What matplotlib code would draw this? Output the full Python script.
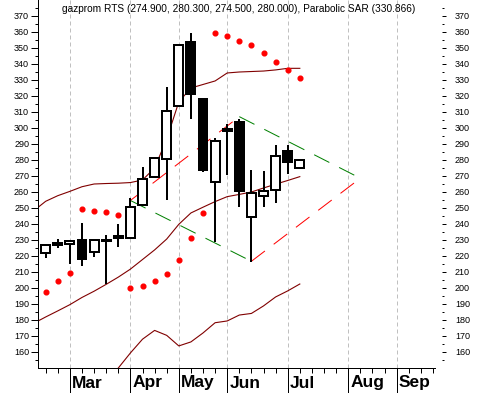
import matplotlib
matplotlib.use('Agg')
import matplotlib.pyplot as plt
import numpy as np

plt.rcParams['font.family'] = ['Liberation Sans', 'DejaVu Sans']

# weekly candles (index 0 = last week of Feb)
opens = [221.5, 227.8, 227.6, 229.8, 222.3, 230.0, 231.3, 230.9, 251.5, 269.4, 280.6,
         313.6, 353.6, 318.0, 266.1, 299.2, 303.8, 244.4, 257.5, 261.1, 285.7, 274.9]
highs = [227.0, 230.6, 229.6, 240.6, 230.0, 232.9, 239.6, 255.9, 275.7, 281.9, 325.6,
         352.0, 359.4, 318.6, 293.4, 302.3, 305.4, 273.6, 273.1, 289.2, 289.2, 280.3]
lows = [218.4, 224.6, 214.6, 213.6, 219.0, 202.3, 225.6, 230.5, 251.0, 269.0, 254.8,
        313.0, 305.2, 272.5, 228.3, 270.2, 250.3, 215.9, 250.6, 253.1, 271.1, 274.5]
closes = [226.7, 226.5, 229.2, 217.8, 229.8, 229.0, 232.3, 250.6, 268.1, 280.9, 310.6,
          351.4, 321.0, 273.6, 291.7, 297.9, 260.7, 259.4, 260.4, 282.3, 278.8, 280.0]

sar = [197.5, 204.2, 209.4, 249.2, 248.1, 247.5, 245.6, 200.0, 201.1, 204.2, 208.6,
       217.5, 231.3, 246.9, 359.2, 357.1, 354.2, 351.5, 346.5, 341.1, 335.9, 330.9]

# bollinger bands, starting one week before the first visible candle
band_start = -1
bb_upper = [248.0, 254.0, 257.5, 260.2, 263.1, 264.8, 265.1, 265.3, 265.7, 267.3, 274.8, 292.9,
            316.1, 324.8, 327.0, 329.2, 334.2, 334.8, 335.1, 335.4, 336.1, 337.1, 337.1]
bb_middle = [177.7, 181.7, 185.5, 189.4, 193.9, 197.8, 202.1, 206.6, 211.6, 217.6, 223.6, 230.4,
             239.6, 246.7, 250.3, 253.8, 256.9, 258.3, 259.8, 262.3, 264.7, 267.0, 269.4]
bb_lower = [107.4, 109.4, 113.5, 118.6, 124.7, 130.8, 139.1, 149.8, 159.2, 167.8, 173.3, 170.2,
            163.6, 166.1, 171.7, 178.1, 179.2, 182.9, 183.9, 188.6, 194.2, 198.0, 202.3]

# channel corners: left, top, right, bottom
chan_x = [7, 16, 26, 17]
chan_y = [254.5, 306.9, 268.4, 216.5]

months = ['Mar', 'Apr', 'May', 'Jun', 'Jul', 'Aug', 'Sep']
month_weeks = [2, 7, 11, 15, 20, 25, 29]
n_weeks = 33

title = 'gazprom RTS (274.900, 280.300, 274.500, 280.000), Parabolic SAR (330.866)'

W, H = 478, 393
fig = plt.figure(figsize=(W / 100, H / 100), dpi=100)
ax = fig.add_axes([38 / W, (H - 368) / H, (442 - 38) / W, 368 / H])
ax.set_xlim(-0.636, 32.75)
ax.set_ylim(149.8, 379.8)

px = 0.72  # one pixel in points

for m in month_weeks:
    ax.axvline(m, color='#c0c0c0', lw=px, linestyle=(0, (4 / px * 0.72, 3 / px * 0.72)), zorder=0)

# bands
xb = np.arange(band_start, band_start + len(bb_upper))
for band in (bb_upper, bb_middle, bb_lower):
    ax.plot(xb, band, color='#800000', lw=0.8, zorder=2)

# channel
dash = (0, (17, 11))
ax.plot([chan_x[1], chan_x[2]], [chan_y[1], chan_y[2]], color='#008000', lw=px, linestyle=dash, zorder=2)
ax.plot([chan_x[0], chan_x[3]], [chan_y[0], chan_y[3]], color='#008000', lw=px, linestyle=dash, zorder=2)
ax.plot([chan_x[0], chan_x[1]], [chan_y[0], chan_y[1]], color='#ff0000', lw=px, linestyle=dash, zorder=2)
ax.plot([chan_x[3], chan_x[2]], [chan_y[3], chan_y[2]], color='#ff0000', lw=px, linestyle=dash, zorder=2)

# candles
x = np.arange(len(opens))
o = np.array(opens)
c = np.array(closes)
ax.vlines(x, lows, highs, color='black', lw=1.44, zorder=3)
body_colors = ['white' if cc >= oo else 'black' for oo, cc in zip(o, c)]
ax.bar(x, np.abs(c - o), bottom=np.minimum(o, c), width=0.74, color=body_colors,
       edgecolor='black', linewidth=1.44, zorder=4)

# parabolic SAR
ax.plot(x, sar, 'o', color='#ff0000', ms=3.4, mec='#ff0000', zorder=5)

# axes styling
for s in ('top', 'right'):
    ax.spines[s].set_visible(False)
ax.spines['left'].set_linewidth(px)
ax.spines['bottom'].set_linewidth(px)
ax.spines['bottom'].set_bounds(-0.636, 32.17)

yt = np.arange(160, 371, 10)
ymin = np.arange(155, 376, 10)
ax.set_yticks(yt)
ax.set_yticks(ymin, minor=True)
ax.tick_params(axis='y', which='major', length=5, width=px, pad=1.4, labelsize=6.5)
ax.tick_params(axis='y', which='minor', length=2.2, width=px)

ax.set_xticks(month_weeks)
ax.set_xticks(np.arange(n_weeks), minor=True)
ax.set_xticklabels([])
ax.tick_params(axis='x', which='major', length=18, width=px)
ax.tick_params(axis='x', which='minor', length=3.6, width=px)

for m, pos in zip(months, month_weeks):
    ax.annotate(m, xy=(pos, 0), xycoords=ax.get_xaxis_transform(),
                xytext=(1.5, -10.8), textcoords='offset points',
                ha='left', va='center', fontsize=12.5, fontweight='bold')

ax2 = ax.twinx()
ax2.set_ylim(ax.get_ylim())
ax2.set_yticks(yt)
ax2.set_yticks(ymin, minor=True)
for s in ('top', 'right', 'left', 'bottom'):
    ax2.spines[s].set_visible(False)
ax2.tick_params(axis='y', which='major', length=2.9, width=px, pad=6.5, labelsize=6.5)
ax2.tick_params(axis='y', which='minor', length=1.4, width=px)

fig.text(62 / W, 1 - 9.5 / H, title, fontsize=7.3, ha='left', va='center')

plt.savefig('out.png', dpi=100)
